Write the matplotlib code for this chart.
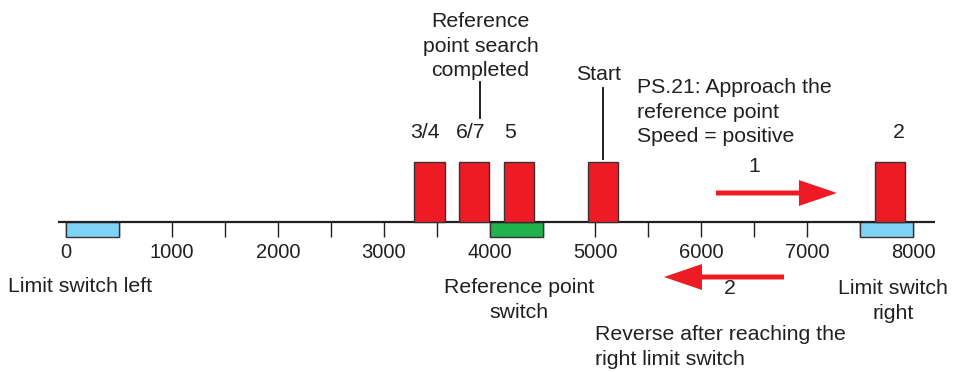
import matplotlib
matplotlib.use("Agg")
import matplotlib.pyplot as plt

plt.rcParams['font.family'] = ['Liberation Sans', 'DejaVu Sans']

# positions along the travel axis
ticks = list(range(0, 8001, 1000))
minor_ticks = list(range(500, 8000, 1000))
tick_labels = [str(t) for t in ticks]

# red markers (left edges) and their labels
marker_left = [3290, 3710, 4135, 4930, 7640]
marker_width = 285
step_labels = ["3/4", "6/7", "5", "2"]
step_label_x = [3390, 3824, 4193, 7866]

# switches (start, end)
limit_left = (0, 500)
limit_right = (7500, 8000)
ref_switch = (4000, 4500)

# arrows: start, end
arrow_fwd = (6138, 7280)
arrow_back = (6780, 5647)

TXT = '#231F20'
RED = '#ED1C24'
BLUE = '#7DD3F4'
GREEN = '#21B24B'
EDGE = '#3a3030'
FS = 15.3
LS = 1.38

fig = plt.figure(figsize=(9.62, 3.72), dpi=100)
ax = fig.add_axes([0, 0, 1, 1])
ax.set_xlim(-623, 8461)
ax.set_ylim(-150, 222)
ax.axis('off')

# ticks below the line
ax.vlines(ticks + minor_ticks, -15, 0, color=TXT, lw=1.0)
ax.plot([-75, 8210], [0, 0], color=TXT, lw=1.6, solid_capstyle='butt', zorder=3)

# switches
for (a, b), c in [(limit_left, BLUE), (limit_right, BLUE), (ref_switch, GREEN)]:
    ax.bar(a, -15, width=b - a, bottom=0, align='edge', color=c,
           edgecolor=EDGE, lw=1.0, zorder=2)

# red markers
ax.bar(marker_left, 60, width=marker_width, bottom=0, align='edge',
       color=RED, edgecolor=EDGE, lw=1.0, zorder=4)

for t, lab in zip(ticks, tick_labels):
    ax.text(t, -30, lab, ha='center', va='center', fontsize=14.5, color=TXT)

for x, lab in zip(step_label_x, step_labels):
    ax.text(x, 89, lab, ha='center', va='center', fontsize=FS, color=TXT)

# callouts
ax.text(3914, 176, "Reference\npoint search\ncompleted", ha='center', va='center',
        multialignment='center', fontsize=FS, color=TXT, linespacing=LS)
ax.plot([3909, 3909], [104, 140], color=TXT, lw=1.4)

ax.text(5033, 147, "Start", ha='center', va='center', fontsize=FS, color=TXT)
ax.plot([5071, 5071], [63, 134], color=TXT, lw=1.4)

ax.text(5392, 110, "PS.21: Approach the\nreference point\nSpeed = positive",
        ha='left', va='center', fontsize=FS, color=TXT, linespacing=LS)

# direction arrows
hl = 38 * 1000 / 105.9
ax.arrow(arrow_fwd[0], 29, arrow_fwd[1] - arrow_fwd[0], 0, width=5, head_width=26,
         head_length=hl, length_includes_head=True, color=RED, lw=0)
ax.arrow(arrow_back[0], -55, arrow_back[1] - arrow_back[0], 0, width=5, head_width=26,
         head_length=hl, length_includes_head=True, color=RED, lw=0)
ax.text(6497, 55, "1", ha='center', va='center', fontsize=FS, color=TXT)
ax.text(6270, -66, "2", ha='center', va='center', fontsize=FS, color=TXT)

# labels under the axis
ax.text(132, -65, "Limit switch left", ha='center', va='center', fontsize=FS, color=TXT)
ax.text(4278, -78, "Reference point\nswitch", ha='center', va='center',
        multialignment='center', fontsize=FS, color=TXT, linespacing=LS)
ax.text(7809, -79, "Limit switch\nright", ha='center', va='center',
        multialignment='center', fontsize=FS, color=TXT, linespacing=LS)
ax.text(4995, -125, "Reverse after reaching the\nright limit switch", ha='left',
        va='center', fontsize=FS, color=TXT, linespacing=LS)

fig.savefig("out.png", dpi=100)
